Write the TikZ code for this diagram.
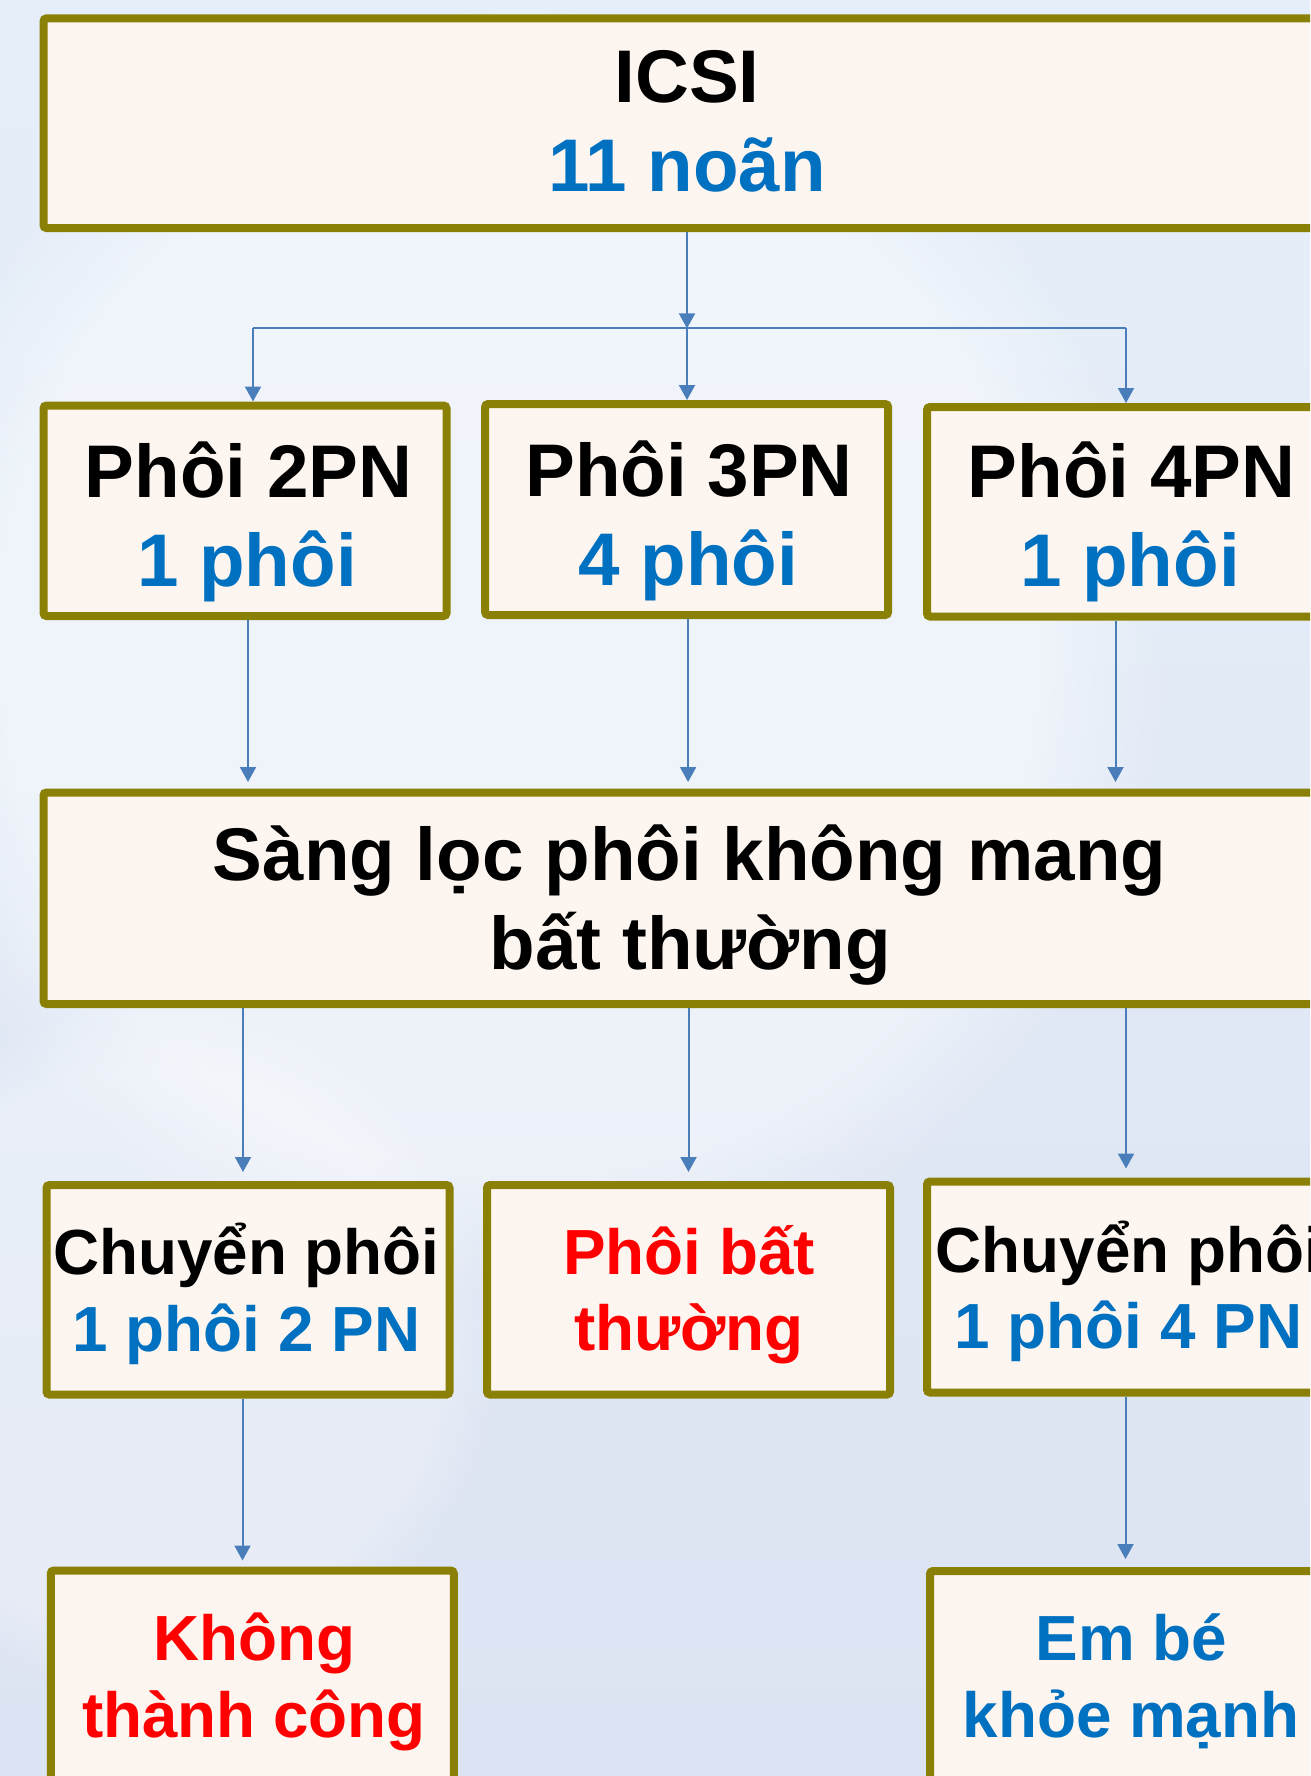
\documentclass[tikz,border=0pt]{standalone}
\usepackage{fontspec}
\setmainfont{Liberation Sans}
\usetikzlibrary{arrows.meta,fadings}
\definecolor{boxline}{RGB}{138,128,6}
\definecolor{boxfill}{RGB}{253,246,240}
\definecolor{txtblue}{RGB}{0,112,192}
\definecolor{txtred}{RGB}{255,0,0}
\definecolor{arrowblue}{RGB}{74,126,187}
\definecolor{bgtop}{RGB}{230,239,249}
\definecolor{bgbot}{RGB}{220,227,242}
\begin{document}
\begin{tikzpicture}[x=1pt,y=-1pt,
  box/.style={draw=boxline, line width=8pt, fill=boxfill, rounded corners=3pt,
    inner sep=0pt, minimum width=403pt, minimum height=210pt},
  widebox/.style={box, minimum width=1287pt},
  big/.style={font=\fontsize{74.6}{89}\selectfont\bfseries, inner sep=0pt, anchor=base},
  small/.style={font=\fontsize{63.8}{76}\selectfont\bfseries, inner sep=0pt, anchor=base},
  arr/.style={draw=arrowblue, line width=2pt, -{Triangle[width=16pt,length=15pt]}},
  ln/.style={draw=arrowblue, line width=2pt}]
\useasboundingbox (0,0) rectangle (1310,1776);
\clip (0,0) rectangle (1310,1776);
% background
\shade[top color=bgtop, bottom color=bgbot] (0,0) rectangle (1310,1776);
\fill[white, opacity=0.45, path fading=circle with fuzzy edge 20 percent] (520,650) circle (650);
\fill[white, opacity=0.3, path fading=circle with fuzzy edge 20 percent] (150,1350) circle (350);

% boxes
\node[widebox, minimum height=209.7pt] (icsi) at (687,123.2) {};
\node[big] (icsiA) at (687,103) {ICSI};
\node[big, text=txtblue] (icsiB) at (687,192) {11 noãn};

\node[box, minimum height=210.5pt] (r2a) at (245,510.75) {};
\node[box, minimum height=211pt] (r2b) at (686.6,509.5) {};
\node[box, minimum height=209.5pt] (r2c) at (1128.5,511.75) {};
\node[big] (r2aA) at (248.5,497) {Phôi 2PN};
\node[big, text=txtblue] (r2aB) at (247,586) {1 phôi};
\node[big] (r2bA) at (689,496) {Phôi 3PN};
\node[big, text=txtblue] (r2bB) at (688.5,585) {4 phôi};
\node[big] (r2cA) at (1131.5,497) {Phôi 4PN};
\node[big, text=txtblue] (r2cB) at (1130,586) {1 phôi};

\node[widebox, minimum height=211.5pt] (r3) at (687,898.25) {};
\node[big] (r3A) at (689.5,880.5) {Sàng lọc phôi không mang};
\node[big] (r3B) at (690.5,969.3) {bất thường};

\node[box, minimum height=209.5pt] (r4a) at (248,1289.75) {};
\node[box, minimum height=209.5pt] (r4b) at (688.5,1289.75) {};
\node[box, minimum height=211pt] (r4c) at (1128.5,1287) {};
\node[small] (r4aA) at (246.5,1274.5) {Chuyển phôi};
\node[small, text=txtblue] (r4aB) at (246.5,1351) {1 phôi 2 PN};
\node[small, text=txtred] (r4bA) at (689,1274) {Phôi bất};
\node[small, text=txtred] (r4bB) at (689,1350) {thường};
\node[small] (r4cA) at (1129,1272) {Chuyển phôi};
\node[small, text=txtblue] (r4cB) at (1128.5,1348) {1 phôi 4 PN};

\node[box, minimum height=210.5pt] (r5a) at (252.25,1675.75) {};
\node[box, minimum height=210.5pt] (r5c) at (1131.5,1676.25) {};
\node[small, text=txtred] (r5aA) at (254,1660) {Không};
\node[small, text=txtred] (r5aB) at (254,1737) {thành công};
\node[small, text=txtblue] (r5cA) at (1131.5,1660) {Em bé};
\node[small, text=txtblue] (r5cB) at (1131,1737) {khỏe mạnh};

% connectors
\coordinate (jc) at (687,328.4);
\coordinate (jl) at (253,328.4);
\coordinate (jr) at (1126,328.4);
\draw[arr] (icsi.south) -- (jc);
\draw[ln] (jl) -- (jr);
\draw[arr] (jl) -- (jl |- r2a.north);
\draw[arr] (jc) -- (jc |- r2b.north);
\draw[arr] (jr) -- (jr |- r2c.north);

\draw[arr, shorten >=6.5pt] ([xshift=3pt]r2a.south) -- ([xshift=3pt]r2a.south |- r3.north);
\draw[arr, shorten >=6.5pt] ([xshift=1.5pt]r2b.south) -- ([xshift=1.5pt]r2b.south |- r3.north);
\draw[arr, shorten >=6.5pt] ([xshift=-13pt]r2c.south) -- ([xshift=-13pt]r2c.south |- r3.north);

\draw[arr, shorten >=9pt] ([xshift=-5pt]r4a.north |- r3.south) -- ([xshift=-5pt]r4a.north);
\draw[arr, shorten >=9pt] (r4b.north |- r3.south) -- (r4b.north);
\draw[arr, shorten >=9pt] ([xshift=-2.5pt]r4c.north |- r3.south) -- ([xshift=-2.5pt]r4c.north);

\draw[arr, shorten >=6pt] ([xshift=-5.5pt]r4a.south) -- ([xshift=-5.5pt]r4a.south |- r5a.north);
\draw[arr, shorten >=8pt] ([xshift=-3pt]r4c.south) -- ([xshift=-3pt]r4c.south |- r5c.north);
\end{tikzpicture}
\end{document}
